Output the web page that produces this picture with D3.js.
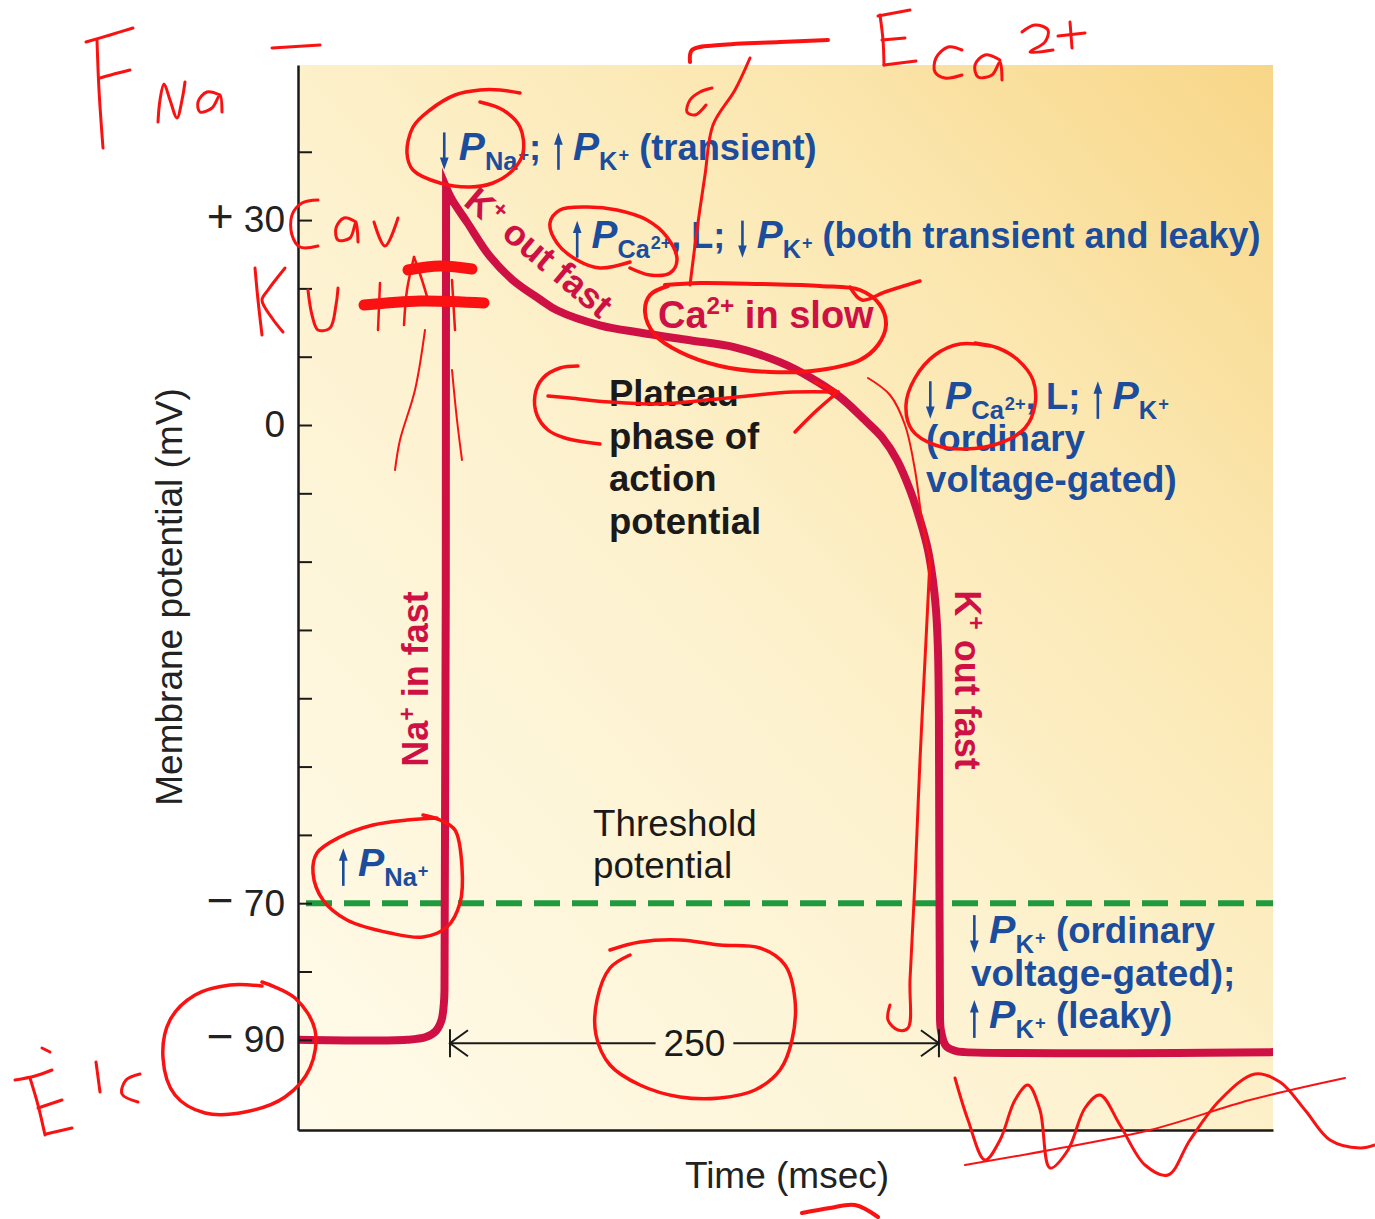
<!DOCTYPE html>
<html>
<head>
<meta charset="utf-8">
<script src="https://cdn.jsdelivr.net/npm/d3@7"></script>
<style>
  html, body { margin: 0; padding: 0; background: #ffffff; }
  svg { display: block; }
</style>
</head>
<body>
<svg id="chart" width="1375" height="1219"></svg>
<script>
// ---- Ventricular action potential: time (ms, upstroke at 0) vs membrane potential (mV) ----
const timeDomain = [-77.7, 420.8];
const voltageDomain = [-103.2, 52.7];

const apTime = [-77.7, -22, -12.3, -7.2, -4.3, -3.1, -2.8, -2.0, 1.0, 8.7, 20.4, 32.2, 46.0,
  54.7, 76.7, 97.6, 122.7, 145.2, 168.7, 184.0, 199.4, 212.2, 220.9, 228.5, 235.2, 240.3,
  244.4, 246.9, 248.5, 249.5, 250.0, 250.5, 251.0, 253.6, 258.2, 263.3, 420.8];
const apVoltage = [-90, -90, -89.6, -88.7, -87.1, -84.6, -82.7, 34.8, 33.0, 29.7, 24.7, 21.2, 18.4,
  16.8, 14.6, 13.5, 12.4, 11.4, 9.2, 7.0, 4.1, 0.7, -1.8, -5.1, -9.5, -13.9,
  -18.3, -22.7, -27.1, -32.9, -43.2, -84.2, -88.6, -90.9, -91.6, -91.8, -91.8];

const yTicks = [-90, -80, -70, -60, -50, -40, -30, -20, -10, 0, 10, 20, 30, 40];
const yTickLabels = { "30": "+ 30", "0": "0", "-70": "\u2212 70", "-90": "\u2212 90" };

const thresholdMv = -70;
const plateauSpanMs = [0, 250];
const plateauSpanLabel = "250";
const plateauSpanMv = -90.5;

// ---- Scales ----
const x = d3.scaleLinear().domain(timeDomain).range([298, 1273]);
const y = d3.scaleLinear().domain(voltageDomain).range([1130, 65]);

const svg = d3.select("#chart");
const FONT = '"Liberation Sans", Arial, Helvetica, sans-serif';
const BLUE = "#1c4d9d";
const CRIMSON = "#cf1044";

// ---- Panel background ----
const defs = svg.append("defs");
const grad = defs.append("linearGradient").attr("id", "panelFill")
  .attr("x1", 0).attr("y1", 1).attr("x2", 1).attr("y2", 0);
[["0", "#fffbea"], ["0.45", "#fdf2cf"], ["0.75", "#fbe6ae"], ["1", "#f8d687"]]
  .forEach(([o, c]) => grad.append("stop").attr("offset", o).attr("stop-color", c));

svg.append("rect")
  .attr("x", x(timeDomain[0])).attr("y", y(voltageDomain[1]))
  .attr("width", x(timeDomain[1]) - x(timeDomain[0]))
  .attr("height", y(voltageDomain[0]) - y(voltageDomain[1]))
  .attr("fill", "url(#panelFill)");

// ---- Threshold line ----
svg.append("line")
  .attr("x1", x(timeDomain[0])).attr("x2", x(timeDomain[1]))
  .attr("y1", y(thresholdMv)).attr("y2", y(thresholdMv))
  .attr("stroke", "#1f9a3f").attr("stroke-width", 6)
  .attr("stroke-dasharray", "26 12").attr("stroke-dashoffset", -8);

// ---- Action potential trace (rising and falling limbs meet at a sharp peak) ----
const apPoints = apTime.map((t, i) => [t, apVoltage[i]]);
const peakIdx = d3.maxIndex(apVoltage);
const traceLine = d3.line().x(d => x(d[0])).y(d => y(d[1])).curve(d3.curveCatmullRom.alpha(0.5));
const risingD = traceLine(apPoints.slice(0, peakIdx + 1));
const fallingD = traceLine(apPoints.slice(peakIdx)).replace(/^M/, "L");
svg.append("path")
  .attr("fill", "none")
  .attr("stroke", CRIMSON)
  .attr("stroke-width", 8)
  .attr("stroke-linejoin", "miter")
  .attr("stroke-miterlimit", 12)
  .attr("d", risingD + fallingD);

// ---- Axes ----
const yAxis = d3.axisLeft(y)
  .tickValues(yTicks)
  .tickSizeInner(-14)
  .tickSizeOuter(0)
  .tickPadding(13)
  .tickFormat(d => yTickLabels[String(d)] || "");
const gy = svg.append("g").attr("transform", `translate(${x(timeDomain[0])},0)`).call(yAxis);
gy.select(".domain").attr("stroke", "#1a1a1a").attr("stroke-width", 2.5);
gy.selectAll(".tick line").attr("stroke", "#1a1a1a").attr("stroke-width", 2);
gy.selectAll(".tick text").attr("font-family", FONT).attr("font-size", 37).attr("fill", "#222")
  .each(function (d) {
    // signed labels use a larger sign glyph
    const lab = yTickLabels[String(d)];
    if (lab && lab.length > 2) {
      const el = d3.select(this).text(null);
      el.append("tspan").attr("font-size", 46).text(lab[0]);
      el.append("tspan").style("white-space", "pre").text(lab.slice(1));
    }
  });

const xAxis = d3.axisBottom(x).tickValues([]).tickSizeOuter(0);
const gx = svg.append("g").attr("transform", `translate(0,${y(voltageDomain[0])})`).call(xAxis);
gx.select(".domain").attr("stroke", "#1a1a1a").attr("stroke-width", 2.5);

svg.append("text")
  .attr("transform", `translate(182,597) rotate(-90)`)
  .attr("text-anchor", "middle").attr("font-family", FONT).attr("font-size", 37).attr("fill", "#222")
  .text("Membrane potential (mV)");
svg.append("text")
  .attr("x", 787).attr("y", 1188)
  .attr("text-anchor", "middle").attr("font-family", FONT).attr("font-size", 37).attr("fill", "#222")
  .text("Time (msec)");

// ---- Rich text with subscripts, superscripts and thin arrows ----
function rich(segs, o) {
  const g = svg.append("g");
  const inner = g.append("g");
  const s = o.size;
  let cx = 0;
  segs.forEach(seg => {
    if (seg.a) {
      const ax = cx + s * 0.2;
      const up = seg.a === "up";
      const top = -s * 0.76, bot = s * 0.27;
      const tip = up ? top : bot, tail = up ? bot : top;
      const hl = s * 0.34, hw = s * 0.12, dir = up ? 1 : -1;
      inner.append("line").attr("x1", ax).attr("x2", ax)
        .attr("y1", tail).attr("y2", tip + dir * hl * 0.7)
        .attr("stroke", o.color).attr("stroke-width", 2.6);
      inner.append("path")
        .attr("d", `M${ax},${tip}L${ax - hw},${tip + dir * hl}L${ax + hw},${tip + dir * hl}Z`)
        .attr("fill", o.color);
      cx += s * 0.6;
      return;
    }
    const k = seg.k || "b";
    let fs = s, dy = 0, style = "normal", pad = 0;
    if (k === "i") { style = "italic"; fs = s * 1.08; }
    if (k === "sub") { fs = s * 0.7; dy = s * 0.28; }
    if (k === "sup") { fs = s * 0.5; dy = s * 0.03; pad = 1; }
    if (k === "sup2") { fs = s * 0.64; dy = -s * 0.36; }
    const t = inner.append("text")
      .attr("x", cx + pad).attr("y", dy)
      .attr("font-family", FONT).attr("font-size", fs)
      .attr("font-weight", o.weight || "bold").attr("font-style", style)
      .attr("fill", o.color)
      .style("white-space", "pre")
      .text(seg.t);
    cx += t.node().getComputedTextLength() + pad;
  });
  if (o.anchor === "middle") inner.attr("transform", `translate(${-cx / 2},0)`);
  g.attr("transform", `translate(${o.x},${o.y}) rotate(${o.rotate || 0})`);
  return g;
}

// Permeability notes
rich([{ a: "down" }, { t: "P", k: "i" }, { t: "Na", k: "sub" }, { t: "+", k: "sup" }, { t: "; " },
      { a: "up" }, { t: "P", k: "i" }, { t: "K", k: "sub" }, { t: "+", k: "sup" }, { t: " (transient)" }],
     { x: 437, y: 160, size: 36.3, color: BLUE });
rich([{ a: "up" }, { t: "P", k: "i" }, { t: "Ca", k: "sub" }, { t: "2+", k: "sup" }, { t: ", L; " },
      { a: "down" }, { t: "P", k: "i" }, { t: "K", k: "sub" }, { t: "+", k: "sup" },
      { t: " (both transient and leaky)" }],
     { x: 570, y: 248, size: 36, color: BLUE });
rich([{ a: "down" }, { t: "P", k: "i" }, { t: "Ca", k: "sub" }, { t: "2+", k: "sup" }, { t: ", L; " },
      { a: "up" }, { t: "P", k: "i" }, { t: "K", k: "sub" }, { t: "+", k: "sup" }],
     { x: 923, y: 409, size: 36.5, color: BLUE });
rich([{ t: "(ordinary" }], { x: 926, y: 451, size: 36.7, color: BLUE });
rich([{ t: "voltage-gated)" }], { x: 926, y: 492, size: 36.7, color: BLUE });

rich([{ a: "up" }, { t: "P", k: "i" }, { t: "Na", k: "sub" }, { t: "+", k: "sup" }],
     { x: 336, y: 876, size: 36.5, color: BLUE });

rich([{ a: "down" }, { t: "P", k: "i" }, { t: "K", k: "sub" }, { t: "+", k: "sup" }, { t: " (ordinary" }],
     { x: 967, y: 943, size: 36.7, color: BLUE });
rich([{ t: "voltage-gated);" }], { x: 971, y: 986, size: 36.9, color: BLUE });
rich([{ a: "up" }, { t: "P", k: "i" }, { t: "K", k: "sub" }, { t: "+", k: "sup" }, { t: " (leaky)" }],
     { x: 967, y: 1028, size: 36.7, color: BLUE });

// Ion current labels
rich([{ t: "Ca" }, { t: "2+", k: "sup2" }, { t: " in slow" }],
     { x: 658, y: 328, size: 38, color: CRIMSON });
rich([{ t: "K" }, { t: "+", k: "sup2" }, { t: " out fast" }],
     { x: 531, y: 262, size: 36, color: CRIMSON, rotate: 40, anchor: "middle" });
rich([{ t: "Na" }, { t: "+", k: "sup2" }, { t: " in fast" }],
     { x: 428, y: 679, size: 36, color: CRIMSON, rotate: -90, anchor: "middle" });
rich([{ t: "K" }, { t: "+", k: "sup2" }, { t: " out fast" }],
     { x: 955, y: 680, size: 36, color: CRIMSON, rotate: 90, anchor: "middle" });

// Phase labels
["Plateau", "phase of", "action", "potential"].forEach((line, i) => {
  svg.append("text").attr("x", 609).attr("y", 406 + i * 42.5)
    .attr("font-family", FONT).attr("font-size", 36.5).attr("font-weight", "bold").attr("fill", "#1a1a1a")
    .text(line);
});
["Threshold", "potential"].forEach((line, i) => {
  svg.append("text").attr("x", 593).attr("y", 836 + i * 42)
    .attr("font-family", FONT).attr("font-size", 36.8).attr("fill", "#1a1a1a")
    .text(line);
});

// ---- Plateau duration bracket ----
const spanY = y(plateauSpanMv);
const x0 = x(plateauSpanMs[0]), x1 = x(plateauSpanMs[1]);
const spanLabel = svg.append("text")
  .attr("x", (x0 + x1) / 2).attr("y", spanY + 12.5)
  .attr("text-anchor", "middle").attr("font-family", FONT).attr("font-size", 37).attr("fill", "#1a1a1a")
  .text(plateauSpanLabel);
const halfGap = spanLabel.node().getComputedTextLength() / 2 + 8;
const bracket = svg.append("g").attr("stroke", "#1a1a1a").attr("stroke-width", 2).attr("fill", "none");
bracket.append("line").attr("x1", x0).attr("x2", (x0 + x1) / 2 - halfGap).attr("y1", spanY).attr("y2", spanY);
bracket.append("line").attr("x1", (x0 + x1) / 2 + halfGap).attr("x2", x1).attr("y1", spanY).attr("y2", spanY);
bracket.append("line").attr("x1", x0).attr("x2", x0).attr("y1", spanY - 14).attr("y2", spanY + 14);
bracket.append("line").attr("x1", x1).attr("x2", x1).attr("y1", spanY - 14).attr("y2", spanY + 14);
bracket.append("path").attr("d", `M${x0 + 18},${spanY - 13}L${x0},${spanY}L${x0 + 18},${spanY + 13}`);
bracket.append("path").attr("d", `M${x1 - 18},${spanY - 13}L${x1},${spanY}L${x1 - 18},${spanY + 13}`);

// ---- Hand-drawn red markup layer ----
const inkStrokes = [
  // E_Na
  { w: 3, p: [[97, 40], [99, 90], [103, 148]] },
  { w: 3, p: [[86, 42], [110, 35], [133, 28]] },
  { w: 3, p: [[100, 78], [118, 73], [130, 70]] },
  { w: 3, p: [[158, 122], [160, 100], [164, 84], [170, 100], [177, 118], [182, 100], [185, 82]] },
  { w: 3, p: [[220, 95], [207, 92], [198, 102], [200, 112], [212, 108], [220, 95], [222, 112]] },
  { w: 3, p: [[272, 48], [320, 45]] },
  // E_Ca2+
  { w: 3, p: [[880, 15], [883, 40], [884, 65]] },
  { w: 3, p: [[878, 16], [910, 10]] },
  { w: 3, p: [[882, 40], [905, 38]] },
  { w: 3, p: [[884, 65], [916, 61]] },
  { w: 3, p: [[962, 50], [948, 47], [936, 58], [935, 72], [945, 78], [962, 75]] },
  { w: 3, p: [[1000, 60], [985, 55], [975, 65], [978, 77], [992, 75], [1000, 62], [1002, 80]] },
  { w: 3, p: [[1022, 32], [1035, 25], [1048, 30], [1045, 42], [1030, 52], [1053, 50]] },
  { w: 3, p: [[1058, 36], [1085, 33]] },
  { w: 3, p: [[1070, 22], [1072, 48]] },
  // line from E_Ca down to the slow Ca current
  { w: 4, p: [[690, 62], [692, 50], [720, 45], [780, 42], [828, 40]] },
  { w: 3, p: [[750, 58], [735, 90], [713, 125], [705, 175], [697, 230], [690, 285]] },
  { w: 3, p: [[712, 88], [700, 92], [690, 100], [687, 112], [695, 115], [706, 105]] },
  // circles
  { w: 3.5, p: [[520, 93], [500, 90], [480, 90], [455, 95], [430, 110], [413, 127], [407, 153], [413, 170], [440, 183], [470, 187], [493, 183], [513, 170], [523, 153], [520, 127], [503, 110], [480, 102]] },
  { w: 3.5, p: [[630, 262], [600, 268], [577, 260], [557, 243], [550, 223], [560, 210], [587, 207], [617, 210], [647, 220], [667, 237], [677, 260], [670, 273], [650, 275], [630, 268]] },
  { w: 4, p: [[665, 285], [700, 283], [760, 284], [820, 286], [860, 290], [880, 305], [886, 325], [878, 345], [860, 360], [820, 370], [770, 372], [720, 366], [680, 352], [655, 335], [645, 312], [650, 295], [668, 286]] },
  { w: 3.5, p: [[850, 287], [862, 300], [885, 292], [920, 281]] },
  { w: 3.5, p: [[990, 346], [960, 344], [935, 355], [915, 378], [906, 405], [912, 430], [935, 445], [965, 449], [1000, 443], [1025, 428], [1035, 405], [1033, 380], [1018, 360], [998, 348], [975, 343]] },
  { w: 3.5, p: [[423, 815], [440, 820], [455, 830], [462, 867], [460, 903], [447, 927], [423, 937], [390, 933], [347, 920], [323, 900], [313, 873], [317, 853], [340, 837], [373, 825], [407, 820], [437, 818]] },
  { w: 3.5, p: [[262, 982], [295, 998], [315, 1030], [310, 1068], [285, 1097], [245, 1112], [205, 1113], [175, 1095], [163, 1058], [170, 1020], [195, 995], [230, 985], [262, 986]] },
  { w: 3.5, p: [[610, 950], [640, 942], [680, 940], [720, 945], [760, 948], [785, 965], [795, 1000], [792, 1040], [780, 1070], [755, 1090], [720, 1098], [680, 1097], [640, 1085], [610, 1065], [596, 1035], [597, 1000], [610, 968], [630, 955]] },
  // plateau arrow
  { w: 3.5, p: [[578, 366], [560, 368], [543, 378], [535, 395], [537, 415], [548, 430], [565, 438], [600, 444]] },
  { w: 3.5, p: [[548, 396], [570, 398], [610, 402], [660, 404], [727, 398], [793, 392], [838, 392]] },
  { w: 3.5, p: [[815, 382], [838, 392]] },
  { w: 3.5, p: [[838, 392], [815, 412], [795, 432]] },
  // long stroke along repolarisation
  { w: 2, p: [[868, 378], [890, 395], [905, 425], [915, 470], [922, 520], [930, 560]] },
  { w: 3, p: [[930, 560], [926, 640], [920, 760], [915, 880], [910, 980], [908, 1028], [898, 1030], [888, 1020], [890, 1005]] },
  // Cav
  { w: 3, p: [[318, 200], [302, 203], [292, 215], [292, 235], [300, 247], [318, 246]] },
  { w: 3, p: [[356, 222], [344, 218], [336, 228], [338, 240], [350, 238], [356, 222], [358, 242]] },
  { w: 3, p: [[374, 222], [385, 246], [398, 218]] },
  // Kv and hatch marks
  { w: 3, p: [[255, 268], [258, 300], [262, 335]] },
  { w: 3, p: [[285, 268], [268, 290], [262, 300], [272, 318], [283, 332]] },
  { w: 3, p: [[308, 290], [312, 315], [318, 330], [330, 328], [336, 305], [338, 288]] },
  { w: 11, p: [[408, 270], [440, 266], [472, 269]] },
  { w: 11, p: [[364, 305], [420, 301], [484, 303]] },
  { w: 2.5, p: [[414, 257], [407, 290], [404, 325]] },
  { w: 2.5, p: [[414, 257], [422, 280], [428, 300]] },
  { w: 2.5, p: [[380, 283], [378, 330]] },
  { w: 2.5, p: [[452, 280], [455, 330]] },
  { w: 2, p: [[425, 330], [415, 390], [400, 440], [395, 470]] },
  { w: 2, p: [[452, 370], [457, 420], [462, 460]] },
  // E_K
  { w: 3, p: [[15, 1080], [35, 1076], [52, 1070]] },
  { w: 3, p: [[42, 1048], [50, 1052]] },
  { w: 3, p: [[30, 1078], [38, 1105], [45, 1135]] },
  { w: 3, p: [[38, 1108], [62, 1100]] },
  { w: 3, p: [[46, 1134], [72, 1128]] },
  { w: 3, p: [[96, 1062], [100, 1092]] },
  { w: 3, p: [[140, 1074], [126, 1080], [122, 1094], [138, 1102]] },
  // scribbles below the resting potential
  { w: 3, p: [[955, 1078], [968, 1120], [985, 1160], [1000, 1140], [1015, 1100], [1028, 1085], [1040, 1110], [1050, 1168], [1068, 1150], [1085, 1108], [1100, 1095], [1120, 1125], [1145, 1165], [1168, 1175], [1190, 1140], [1220, 1100], [1255, 1074], [1280, 1082], [1305, 1110], [1330, 1140], [1360, 1148], [1375, 1145]] },
  { w: 2, p: [[965, 1165], [1050, 1150], [1150, 1130], [1250, 1100], [1345, 1078]] },
  { w: 4, p: [[802, 1213], [830, 1208], [855, 1205], [878, 1217]] }
];
const inkLine = d3.line().curve(d3.curveCatmullRom.alpha(0.5));
svg.append("g").attr("fill", "none").attr("stroke", "#fa1212")
  .attr("stroke-linecap", "round").attr("stroke-linejoin", "round")
  .selectAll("path").data(inkStrokes).join("path")
  .attr("stroke-width", d => d.w)
  .attr("d", d => inkLine(d.p));
</script>
</body>
</html>
